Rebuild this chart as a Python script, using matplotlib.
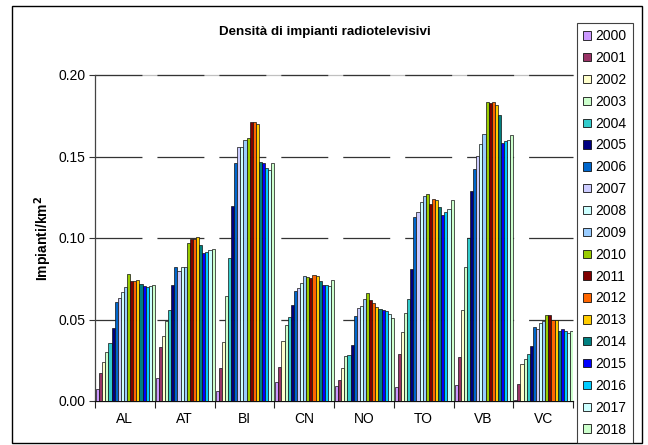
import matplotlib
matplotlib.use("Agg")
import matplotlib.pyplot as plt
from matplotlib.patches import Patch, Rectangle
import numpy as np

plt.rcParams['font.family'] = ['Liberation Sans', 'DejaVu Sans']
plt.rcParams['lines.scale_dashes'] = False

provinces = ["AL", "AT", "BI", "CN", "NO", "TO", "VB", "VC"]
years = [str(y) for y in range(2000, 2019)]

# density (installations per km2) per province, one list per year
AL = [0.0075, 0.0174, 0.024, 0.030, 0.0358, 0.0446, 0.0609, 0.063, 0.0667, 0.0697,
      0.0779, 0.0736, 0.0736, 0.0742, 0.0716, 0.0704, 0.0697, 0.0708, 0.0712]
AT = [0.0139, 0.033, 0.0399, 0.049, 0.0556, 0.071, 0.082, 0.0795, 0.0825, 0.0825,
      0.0967, 0.0996, 0.0996, 0.1004, 0.0955, 0.091, 0.0912, 0.0926, 0.0934]
BI = [0.0061, 0.020, 0.036, 0.0644, 0.0879, 0.1194, 0.1458, 0.1556, 0.1556, 0.160,
      0.1613, 0.171, 0.171, 0.170, 0.1466, 0.1458, 0.1427, 0.1417, 0.1462]
CN = [0.0115, 0.021, 0.0368, 0.0464, 0.0513, 0.0589, 0.0677, 0.0693, 0.0722, 0.0769,
      0.0761, 0.0755, 0.0773, 0.0765, 0.0736, 0.0712, 0.071, 0.0704, 0.0742]
NO = [0.009, 0.0129, 0.0204, 0.0276, 0.0282, 0.0342, 0.0523, 0.0569, 0.0583, 0.0624,
      0.0665, 0.062, 0.0601, 0.0575, 0.0564, 0.0558, 0.0554, 0.0532, 0.0511]
TO = [0.0084, 0.0288, 0.0425, 0.054, 0.0626, 0.0808, 0.1131, 0.1157, 0.1221, 0.126,
      0.1272, 0.1209, 0.1241, 0.1233, 0.119, 0.1143, 0.1161, 0.1176, 0.1233]
VB = [0.0096, 0.0272, 0.0556, 0.082, 0.100, 0.1286, 0.1421, 0.1505, 0.1577, 0.1636,
      0.1833, 0.1826, 0.1833, 0.1814, 0.1755, 0.1585, 0.1593, 0.1599, 0.163]
VC = [0.0004, 0.0104, 0.0227, 0.0258, 0.0288, 0.0337, 0.0452, 0.044, 0.0477, 0.0491,
      0.0528, 0.0528, 0.050, 0.050, 0.043, 0.044, 0.043, 0.042, 0.043]

year_colors = ["#CC99FF", "#993366", "#FFFFCC", "#CCFFCC", "#33CCCC", "#000080",
               "#0066CC", "#CCCCFF", "#CCFFFF", "#99CCFF", "#99CC00", "#800000",
               "#FF6600", "#FFCC00", "#008080", "#0000FF", "#00CCFF", "#CCFFFF",
               "#CCFFCC"]

data = np.array([AL, AT, BI, CN, NO, TO, VB, VC])  # provinces x years

fig = plt.figure(figsize=(6.48, 4.45), dpi=100)
ax = fig.add_axes([95 / 648, 1 - 401 / 445, 478 / 648, 326 / 445])

n_years = len(years)
bar_w = 0.985 / n_years
x = np.arange(len(provinces))
for j in range(n_years):
    offs = (j - (n_years - 1) / 2) * bar_w + 0.01
    ax.bar(x + offs, data[:, j], width=bar_w, color=year_colors[j],
           edgecolor="#111111", linewidth=0.5, zorder=3)

ax.set_xlim(-0.5, len(provinces) - 0.5)
ax.set_ylim(0, 0.20)

# dashed horizontal gridlines
ax.axhline(0.20, color="#C0C0C0", lw=0.9, zorder=1, clip_on=False)
for yv in [0.05, 0.10, 0.15, 0.20]:
    ax.axhline(yv, color="#333333", lw=0.9, dashes=(33.8, 10.8), zorder=2,
               clip_on=False)

yt = [0.00, 0.05, 0.10, 0.15, 0.20]
ax.set_yticks(yt)
ax.set_yticklabels([f"{v:.2f}" for v in yt], fontsize=10)
ax.tick_params(axis="y", direction="out", length=4, width=0.8, color="#333333", pad=3)

ax.set_xticks(x)
ax.set_xticklabels(provinces, fontsize=10)
ax.tick_params(axis="x", which="major", length=0, pad=8)
ax.set_xticks(np.arange(-0.5, len(provinces)), minor=True)
ax.tick_params(axis="x", which="minor", direction="out", length=5, width=0.8, color="#222222")

for s in ["top", "right"]:
    ax.spines[s].set_visible(False)
ax.spines["left"].set_color("#444444")
ax.spines["left"].set_linewidth(0.9)
ax.spines["bottom"].set_color("#111111")
ax.spines["bottom"].set_linewidth(0.9)

ax.set_ylabel("Impianti/km$^\\mathbf{2}$", fontsize=10, fontweight="bold", labelpad=3)

fig.text(325 / 648, 1 - 32 / 445, "Densità di impianti radiotelevisivi",
         ha="center", va="center", fontsize=9.6, fontweight="bold")

handles = [Patch(facecolor=c, edgecolor="#111111", linewidth=0.6) for c in year_colors]
leg = fig.legend(handles, years, loc="upper left",
                 bbox_to_anchor=(577 / 648, 1 - 23 / 445), fontsize=10,
                 frameon=True, fancybox=False, shadow=False, borderaxespad=0,
                 handlelength=0.55, handleheight=0.55, handletextpad=0.35,
                 labelspacing=0.565, borderpad=0.45)
leg.get_frame().set_edgecolor("#111111")
leg.get_frame().set_linewidth(0.8)

# outer chart border
fig.patches.append(Rectangle((12 / 648, 1 - 443 / 445), 630 / 648, 437 / 445,
                             transform=fig.transFigure, fill=False,
                             edgecolor="#000000", linewidth=1.0))

fig.savefig("out.png", dpi=100)
